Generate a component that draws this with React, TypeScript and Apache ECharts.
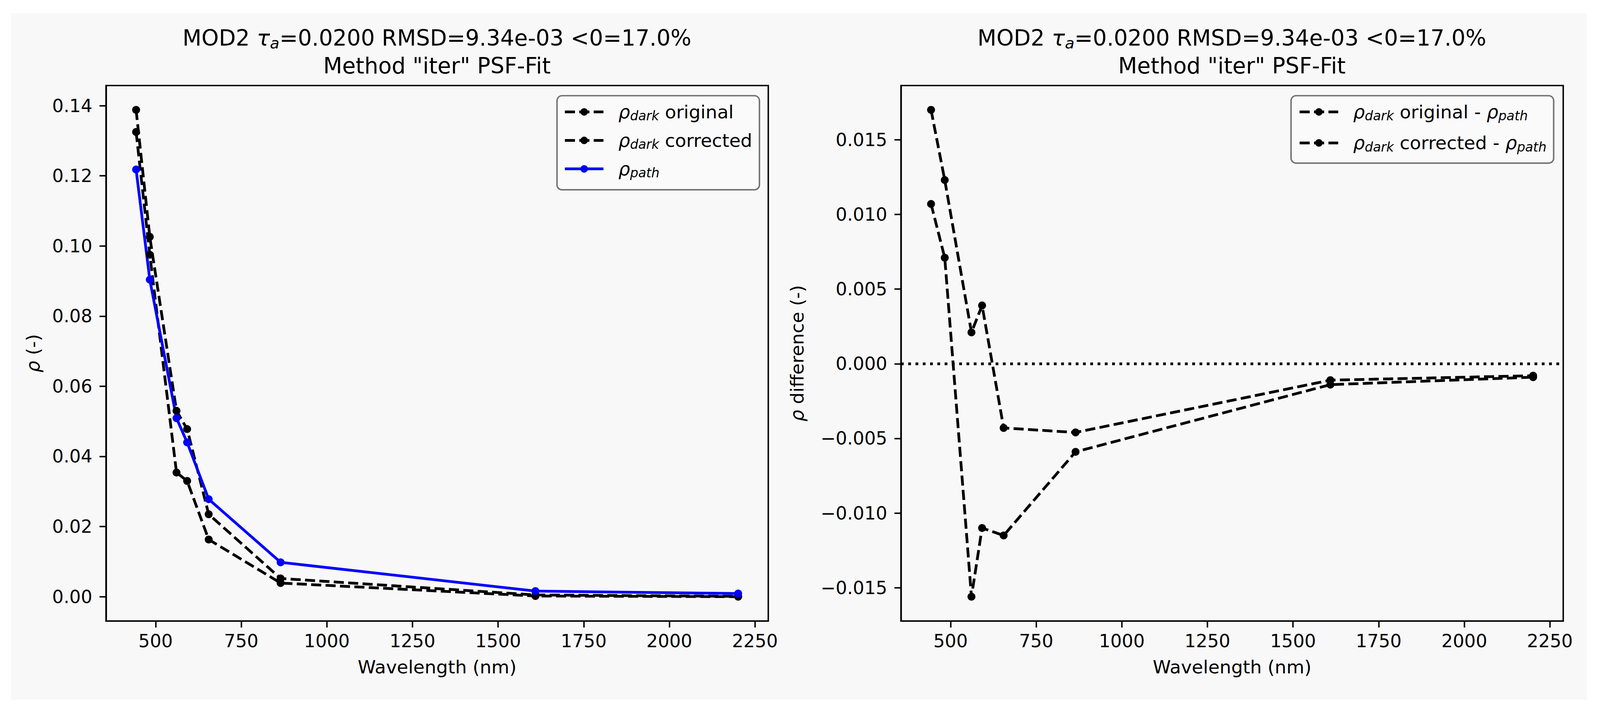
import React, { useEffect, useRef } from "react";
import * as echarts from "echarts";

// ---- data ----
const wavelengths = [443, 483, 561, 592, 655, 865, 1609, 2201];
const rhoDarkOriginal = [0.1388, 0.1026, 0.053, 0.0478, 0.0235, 0.0052, 0.0005, 0.0001];
const rhoDarkCorrected = [0.1325, 0.0975, 0.0354, 0.033, 0.0163, 0.0039, 0.0002, 0.0];
const rhoPath = [0.1218, 0.0904, 0.0509, 0.044, 0.0278, 0.0098, 0.0016, 0.0009];
const diffOriginal = [0.017, 0.0123, 0.0021, 0.0039, -0.0043, -0.0046, -0.0011, -0.0008];
const diffCorrected = [0.0107, 0.0071, -0.0156, -0.011, -0.0115, -0.0059, -0.0014, -0.0009];

const xTicks = [500, 750, 1000, 1250, 1500, 1750, 2000, 2250];
const yTicksLeft = [0, 0.02, 0.04, 0.06, 0.08, 0.1, 0.12, 0.14];
const yTicksRight = [-0.015, -0.01, -0.005, 0, 0.005, 0.01, 0.015];

const titleLine1 = "MOD2 {t|τ}{s|a}=0.0200 RMSD=9.34e-03 <0=17.0%";
const titleLine2 = 'Method "iter" PSF-Fit';

const NAME_ORIG = "ρdark original";
const NAME_CORR = "ρdark corrected";
const NAME_PATH = "ρpath";
const NAME_DORIG = "ρdark original - ρpath";
const NAME_DCORR = "ρdark corrected - ρpath";

const legendRich: Record<string, string> = {
  [NAME_ORIG]: "{r0|ρ}{s|dark}{n| original}",
  [NAME_CORR]: "{r0|ρ}{s|dark}{n| corrected}",
  [NAME_PATH]: "{r0|ρ}{s|path}",
  [NAME_DORIG]: "{r0|ρ}{s|dark}{n| original - }{r|ρ}{s|path}",
  [NAME_DCORR]: "{r0|ρ}{s|dark}{n| corrected - }{r|ρ}{s|path}",
};

const FONT = "DejaVu Sans";
const REF_W = 4438;
const REF_H = 1828;

function padRange(vals: number[][]) {
  const all = vals.flat();
  const lo = Math.min(...all);
  const hi = Math.max(...all);
  const m = (hi - lo) * 0.05;
  return [lo - m, hi + m];
}

export default function App() {
  const ref = useRef<HTMLDivElement>(null);

  useEffect(() => {
    const el = ref.current;
    if (!el) return;
    const W = document.documentElement.clientWidth || window.innerWidth || REF_W;
    const H = document.documentElement.clientHeight || window.innerHeight || REF_H;
    el.style.width = W + "px";
    el.style.height = H + "px";
    const sx = W / REF_W;
    const sy = H / REF_H;
    const f = Math.min(sx, sy);
    const X = (v: number) => v * sx;
    const Y = (v: number) => v * sy;
    const F = (v: number) => v * f;

    const chart = echarts.init(el, null, { renderer: "svg", width: W, height: H });

    const LW = F(7.6);
    const DASH = [F(28), F(12)];

    const [xMin, xMax] = padRange([wavelengths]);
    const [yLMin, yLMax] = padRange([rhoDarkOriginal, rhoDarkCorrected, rhoPath]);
    const [yRMin, yRMax] = padRange([diffOriginal, diffCorrected]);

    const pairs = (ys: number[]) => wavelengths.map((w, i) => [w, ys[i]]);

    const grids = [294, 2499].map((lx) => ({
      left: X(lx),
      top: Y(219),
      width: X(1837),
      height: Y(1371),
      show: true,
      backgroundColor: "#f8f8f8",
      borderColor: "#000",
      borderWidth: F(4),
    }));

    const richText = (size: number, lh: number, subSize: number, lead: number) => ({
      n: { fontFamily: FONT, fontSize: F(size), color: "#000", lineHeight: F(lh) },
      t: { fontFamily: FONT, fontSize: F(size), color: "#000", fontStyle: "italic", lineHeight: F(lh) },
      r: { fontFamily: FONT, fontSize: F(size), color: "#000", fontStyle: "italic", lineHeight: F(lh) },
      r0: {
        fontFamily: FONT,
        fontSize: F(size),
        color: "#000",
        fontStyle: "italic",
        lineHeight: F(lh),
        padding: [0, 0, 0, F(lead)],
      },
      s: {
        fontFamily: FONT,
        fontSize: F(subSize),
        color: "#000",
        fontStyle: "italic",
        lineHeight: F(subSize),
        verticalAlign: "bottom",
      },
      i: { fontFamily: FONT, fontSize: F(size), color: "#000", fontStyle: "italic", lineHeight: F(lh) },
    });

    const mkX = (gi: number) => ({
      type: "value",
      gridIndex: gi,
      min: xMin,
      max: xMax,
      name: "Wavelength (nm)",
      nameLocation: "middle",
      nameGap: Y(94),
      nameTextStyle: { fontFamily: FONT, fontSize: F(51), color: "#000" },
      axisLine: { show: true, onZero: false, lineStyle: { color: "#000", width: F(4) } },
      axisTick: { show: true, customValues: xTicks, length: F(18), lineStyle: { color: "#000", width: F(4) } },
      axisLabel: {
        show: true,
        customValues: xTicks,
        margin: Y(28),
        fontFamily: FONT,
        fontSize: F(50),
        color: "#000",
        formatter: (v: number) => String(v),
      },
      splitLine: { show: false },
    });

    const mkY = (gi: number, min: number, max: number, ticks: number[], dec: number, name: string, gap: number) => ({
      type: "value",
      gridIndex: gi,
      min,
      max,
      name,
      nameLocation: "middle",
      nameGap: X(gap),
      nameTextStyle: { fontFamily: FONT, fontSize: F(51), color: "#000", rich: richText(51, 60, 36, 0) },
      axisLine: { show: true, onZero: false, lineStyle: { color: "#000", width: F(4) } },
      axisTick: { show: true, customValues: ticks, length: F(18), lineStyle: { color: "#000", width: F(4) } },
      axisLabel: {
        show: true,
        customValues: ticks,
        margin: X(38),
        fontFamily: FONT,
        fontSize: F(50),
        color: "#000",
        formatter: (v: number) => {
          const s = Math.abs(v).toFixed(dec);
          return v < -1e-12 ? "\u2212" + s : s;
        },
      },
      splitLine: { show: false },
    });

    const mkSeries = (name: string, ys: number[], color: string, dashed: boolean, gi: number, extra: any = {}) => ({
      type: "line",
      name,
      xAxisIndex: gi,
      yAxisIndex: gi,
      data: pairs(ys),
      symbol: "circle",
      symbolSize: F(22),
      showSymbol: true,
      color,
      itemStyle: { color },
      lineStyle: { color, width: LW, type: dashed ? DASH : "solid", cap: "butt" },
      emphasis: { disabled: true },
      ...extra,
    });

    const mkLegend = (names: string[], left: number, gap: number, padding: number[]) => ({
      data: names,
      orient: "vertical",
      left: X(left),
      top: Y(245),
      itemWidth: F(107),
      itemHeight: F(26),
      itemGap: F(gap),
      padding: padding.map(F),
      backgroundColor: "rgba(250,250,250,0.9)",
      borderColor: "#707070",
      borderWidth: F(4),
      borderRadius: F(14),
      selectedMode: false,
      lineStyle: { width: LW, type: "inherit", cap: "butt" },
      formatter: (n: string) => legendRich[n] || n,
      textStyle: {
        fontFamily: FONT,
        fontSize: F(51),
        color: "#000",
        lineHeight: F(58),
        rich: richText(51, 58, 36, 36),
      },
    });

    const titleRich = richText(61, 72, 43, 0);
    const mkTitle = (text: string, cx: number, top: number) => ({
      text,
      left: X(cx),
      top: Y(top),
      textAlign: "center",
      padding: 0,
      textStyle: {
        fontFamily: FONT,
        fontSize: F(61),
        fontWeight: "normal",
        color: "#000",
        lineHeight: F(72),
        rich: titleRich,
      },
    });

    const option: any = {
      animation: false,
      backgroundColor: "#ffffff",
      graphic: [
        {
          type: "rect",
          z: -10,
          silent: true,
          shape: { x: X(31), y: Y(34), width: X(4370), height: Y(1757) },
          style: { fill: "#f8f8f8" },
        },
      ],
      title: [
        mkTitle(titleLine1, 1212, 64),
        mkTitle(titleLine2, 1212, 135),
        mkTitle(titleLine1, 3417, 64),
        mkTitle(titleLine2, 3417, 135),
      ],
      grid: grids,
      xAxis: [mkX(0), mkX(1)],
      yAxis: [
        mkY(0, yLMin, yLMax, yTicksLeft, 2, "{i|ρ} (-)", 172),
        mkY(1, yRMin, yRMax, yTicksRight, 3, "{i|ρ} difference (-)", 258),
      ],
      legend: [
        mkLegend([NAME_ORIG, NAME_CORR, NAME_PATH], 1545, 21, [16, 20, 29, 18]),
        mkLegend([NAME_DORIG, NAME_DCORR], 3581, 28, [16, 20, 27, 20]),
      ],
      series: [
        mkSeries(NAME_ORIG, rhoDarkOriginal, "#000000", true, 0),
        mkSeries(NAME_CORR, rhoDarkCorrected, "#000000", true, 0),
        mkSeries(NAME_PATH, rhoPath, "#0000ff", false, 0),
        mkSeries(NAME_DORIG, diffOriginal, "#000000", true, 1, {
          markLine: {
            silent: true,
            symbol: "none",
            label: { show: false },
            emphasis: { disabled: true },
            lineStyle: { color: "#000", width: LW, type: [F(7.6), F(12.6)], cap: "butt" },
            data: [{ yAxis: 0 }],
          },
        }),
        mkSeries(NAME_DCORR, diffCorrected, "#000000", true, 1),
      ],
    };

    chart.setOption(option);
    return () => {
      chart.dispose();
    };
  }, []);

  return (
    <div
      ref={ref}
      style={{ position: "absolute", left: 0, top: 0, width: REF_W, height: REF_H, background: "#ffffff" }}
    />
  );
}
